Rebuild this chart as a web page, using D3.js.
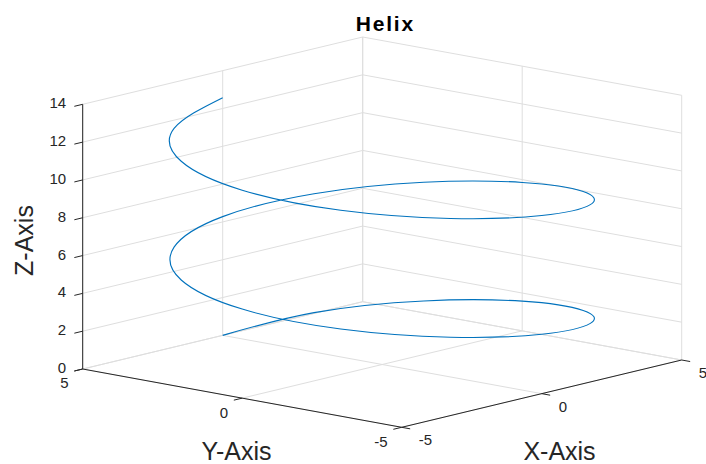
<!DOCTYPE html>
<html lang="en">
<head>
    <meta charset="utf-8">
    <script src="https://d3js.org/d3.v7.min.js"></script>
    <style>
        body { margin: 0; background: #fff; }
        text { font-family: "Liberation Sans", Arial, sans-serif; fill: #262626; }
        .tick-label { font-size: 15px; }
        .axis-label { font-size: 25px; }
        .title { font-size: 21px; font-weight: bold; fill: #000; letter-spacing: 1.8px; }
        .grid { stroke: #dedede; stroke-width: 1; fill: none; }
        .axis { stroke: #262626; stroke-width: 1; fill: none; }
    </style>
</head>
<body>
<svg width="706" height="464"></svg>

<script>

// helix samples: every 30 degrees, two full turns
var helixX = [0, 2.5, 4.33, 5, 4.33, 2.5, 0, -2.5, -4.33, -5, -4.33, -2.5,
              0, 2.5, 4.33, 5, 4.33, 2.5, 0, -2.5, -4.33, -5, -4.33, -2.5, 0];
var helixY = [5, 4.33, 2.5, 0, -2.5, -4.33, -5, -4.33, -2.5, 0, 2.5, 4.33,
              5, 4.33, 2.5, 0, -2.5, -4.33, -5, -4.33, -2.5, 0, 2.5, 4.33, 5];
var helixZ = [0, 0.52, 1.05, 1.57, 2.09, 2.62, 3.14, 3.67, 4.19, 4.71, 5.24, 5.76,
              6.28, 6.81, 7.33, 7.85, 8.38, 8.90, 9.42, 9.95, 10.47, 11.00, 11.52, 12.04, 12.57];

var xTicks = [-5, 0, 5],
    yTicks = [-5, 0, 5],
    zTicks = [0, 2, 4, 6, 8, 10, 12, 14];

var svg = d3.select("svg");

// data -> unit box
var xScale = d3.scaleLinear().domain([-5, 5]).range([0, 1]),
    yScale = d3.scaleLinear().domain([-5, 5]).range([0, 1]),
    zScale = d3.scaleLinear().domain([0, 14]).range([0, 1]);

// unit box -> screen (orthographic view, corner x=-5,y=-5,z=0 at origin)
var origin = [401.7, 427.3],
    ex = [280, -67.3],
    ey = [-319, -58.3],
    ez = [0, -264.7];

function project(x, y, z) {
    var u = xScale(x), v = yScale(y), w = zScale(z);
    return [origin[0] + u * ex[0] + v * ey[0] + w * ez[0],
            origin[1] + u * ex[1] + v * ey[1] + w * ez[1]];
}

function seg(g, a, b, cls) {
    var p = project(a[0], a[1], a[2]), q = project(b[0], b[1], b[2]);
    g.append("line").attr("class", cls)
        .attr("x1", p[0]).attr("y1", p[1])
        .attr("x2", q[0]).attr("y2", q[1]);
}

// grid: floor and two back walls
var grid = svg.append("g");
xTicks.forEach(function(x) {
    seg(grid, [x, -5, 0], [x, 5, 0], "grid");
    seg(grid, [x, 5, 0], [x, 5, 14], "grid");
});
yTicks.forEach(function(y) {
    seg(grid, [-5, y, 0], [5, y, 0], "grid");
    seg(grid, [5, y, 0], [5, y, 14], "grid");
});
zTicks.forEach(function(z) {
    seg(grid, [-5, 5, z], [5, 5, z], "grid");
    seg(grid, [5, -5, z], [5, 5, z], "grid");
});

// helix
var pts = helixX.map(function(d, i) { return project(helixX[i], helixY[i], helixZ[i]); });
svg.append("path")
    .attr("d", d3.line().curve(d3.curveNatural)(pts))
    .attr("fill", "none")
    .attr("stroke", "#0072BD")
    .attr("stroke-width", 1.1);

// axes
var axes = svg.append("g");
seg(axes, [-5, -5, 0], [5, -5, 0], "axis");
seg(axes, [-5, -5, 0], [-5, 5, 0], "axis");
seg(axes, [-5, 5, 0], [-5, 5, 14], "axis");

var tickLen = 8.6;
function unit(v) { var l = Math.hypot(v[0], v[1]); return [v[0] / l, v[1] / l]; }
var dirX = unit([-ey[0], -ey[1]]),  // x ticks stick out along -y
    dirY = unit([-ex[0], -ex[1]]);  // y and z ticks stick out along -x

xTicks.forEach(function(x) {
    var p = project(x, -5, 0);
    axes.append("line").attr("class", "axis")
        .attr("x1", p[0]).attr("y1", p[1])
        .attr("x2", p[0] + dirX[0] * tickLen).attr("y2", p[1] + dirX[1] * tickLen);
    svg.append("text").attr("class", "tick-label")
        .attr("x", p[0] + 17).attr("y", p[1] + 14)
        .attr("dominant-baseline", "middle")
        .text(x);
});

yTicks.forEach(function(y) {
    var p = project(-5, y, 0);
    axes.append("line").attr("class", "axis")
        .attr("x1", p[0]).attr("y1", p[1])
        .attr("x2", p[0] + dirY[0] * tickLen).attr("y2", p[1] + dirY[1] * tickLen);
    svg.append("text").attr("class", "tick-label")
        .attr("x", p[0] - 14).attr("y", p[1] + 15.5)
        .attr("text-anchor", "end")
        .attr("dominant-baseline", "middle")
        .text(y);
});

zTicks.forEach(function(z) {
    var p = project(-5, 5, z);
    axes.append("line").attr("class", "axis")
        .attr("x1", p[0]).attr("y1", p[1])
        .attr("x2", p[0] + dirY[0] * tickLen).attr("y2", p[1] + dirY[1] * tickLen);
    svg.append("text").attr("class", "tick-label")
        .attr("x", p[0] - 16.5).attr("y", p[1])
        .attr("text-anchor", "end")
        .attr("dominant-baseline", "middle")
        .text(z);
});

// labels
svg.append("text").attr("class", "axis-label")
    .attr("x", 236.5).attr("y", 460)
    .attr("text-anchor", "middle")
    .text("Y-Axis");

svg.append("text").attr("class", "axis-label")
    .attr("x", 559.5).attr("y", 460)
    .attr("text-anchor", "middle")
    .text("X-Axis");

svg.append("text").attr("class", "axis-label")
    .attr("transform", "translate(33,240.5) rotate(-90)")
    .attr("text-anchor", "middle")
    .text("Z-Axis");

svg.append("text").attr("class", "title")
    .attr("x", 385.3).attr("y", 31)
    .attr("text-anchor", "middle")
    .text("Helix");

</script>
</body>
</html>
